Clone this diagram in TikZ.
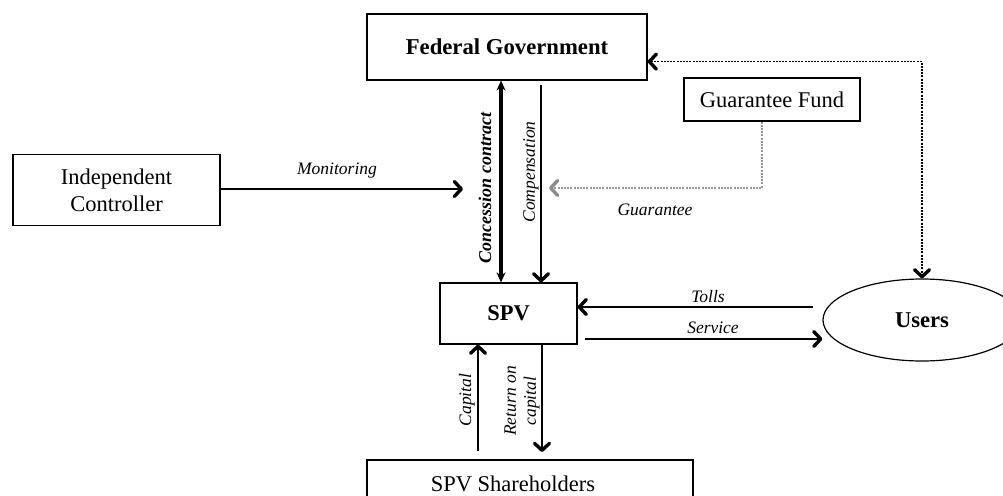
\documentclass[tikz,border=0pt]{standalone}
\usepackage{fontspec}
\setmainfont{Liberation Serif}
\usetikzlibrary{arrows.meta,shapes.geometric,calc}
\tikzset{
  box/.style={draw=black, line width=1.2pt, rectangle, inner sep=0pt, font=\fontsize{22.5}{27}\selectfont},
  lbl/.style={inner sep=0pt, font=\fontsize{17.5}{20}\selectfont\itshape},
  chev/.tip={Straight Barb[length=7pt,width=15pt,line width=3.4pt,round]},
  flow/.style={line width=1.3pt, -chev},
  dotarrow/.style={line width=1.3pt, dash pattern=on 2pt off 1.2pt, chev-chev},
  grayarrow/.style={line width=1.2pt, draw=black!40, dash pattern=on 2pt off 1.2pt, -{Straight Barb[length=7pt,width=15pt,line width=3.4pt,round,black!45]}},
  thickarrow/.style={line width=4pt, {Stealth[length=10pt,width=9pt]}-{Stealth[length=10pt,width=9pt]}}
}
\begin{document}
\begin{tikzpicture}[x=1pt,y=-1pt]
\useasboundingbox (0,0) rectangle (1003,495);
\clip (0,0) rectangle (1003,495);
% nodes
\node[box, minimum width=280pt, minimum height=66pt, font=\fontsize{22.7}{27}\selectfont\bfseries] (fg) at (507,47) {Federal Government};
\node[box, minimum width=176pt, minimum height=43pt] (gf) at (772,99.5) {Guarantee Fund};
\node[box, minimum width=207pt, minimum height=71pt, align=center] (ic) at (116.5,190) {Independent\\Controller};
\node[box, minimum width=137pt, minimum height=61pt, font=\fontsize{22.5}{27}\selectfont\bfseries] (spv) at (508.5,313.5) {SPV};
\node[draw=black, line width=1.2pt, ellipse, minimum width=198pt, minimum height=82pt, inner sep=0pt, font=\fontsize{22.6}{27}\selectfont\bfseries] (users) at (922,320) {Users};
\node[box, minimum width=326pt, minimum height=48pt] (sh) at (530,484) {};
\node[inner sep=0pt, font=\fontsize{22.5}{27}\selectfont] (shtext) at (513,484) {SPV Shareholders};
% free ends
\coordinate (mon) at (463,189);
\coordinate (guar) at (549,188);
% connectors
\draw[flow] (ic.east |- mon) -- (mon);
\node[lbl] (monl) at (337,171) {Monitoring};
\draw[thickarrow] (501,0 |- fg.south) -- (501,0 |- spv.north);
\node[lbl, rotate=90, font=\fontsize{18}{20}\selectfont\bfseries\itshape] (ccl) at (485,188) {Concession contract};
\draw[flow] (541,85) -- (541,0 |- spv.north);
\node[lbl, rotate=90] (coml) at (531,172) {Compensation};
\draw[grayarrow] (762,0 |- gf.south) |- (guar);
\node[lbl] (guarl) at (655,210) {Guarantee};
\draw[dotarrow] ($(fg.south east)+(0,-19)$) -| (users.north);
\draw[flow] (813,307) -- (spv.east |- 0,307);
\node[lbl] (tollsl) at (708,297) {Tolls};
\draw[flow] (585,339) -- (users.west |- 0,339);
\node[lbl] (servl) at (713,328) {Service};
\draw[flow] (478,0 |- sh.north) ++(0,-8) -- (478,0 |- spv.south);
\node[lbl, rotate=90] (capl) at (467,400) {Capital};
\draw[flow] (542,0 |- spv.south) -- (542,452);
\node[lbl, rotate=90, align=center] (retl) at (522,401) {Return on\\capital};
\end{tikzpicture}
\end{document}
